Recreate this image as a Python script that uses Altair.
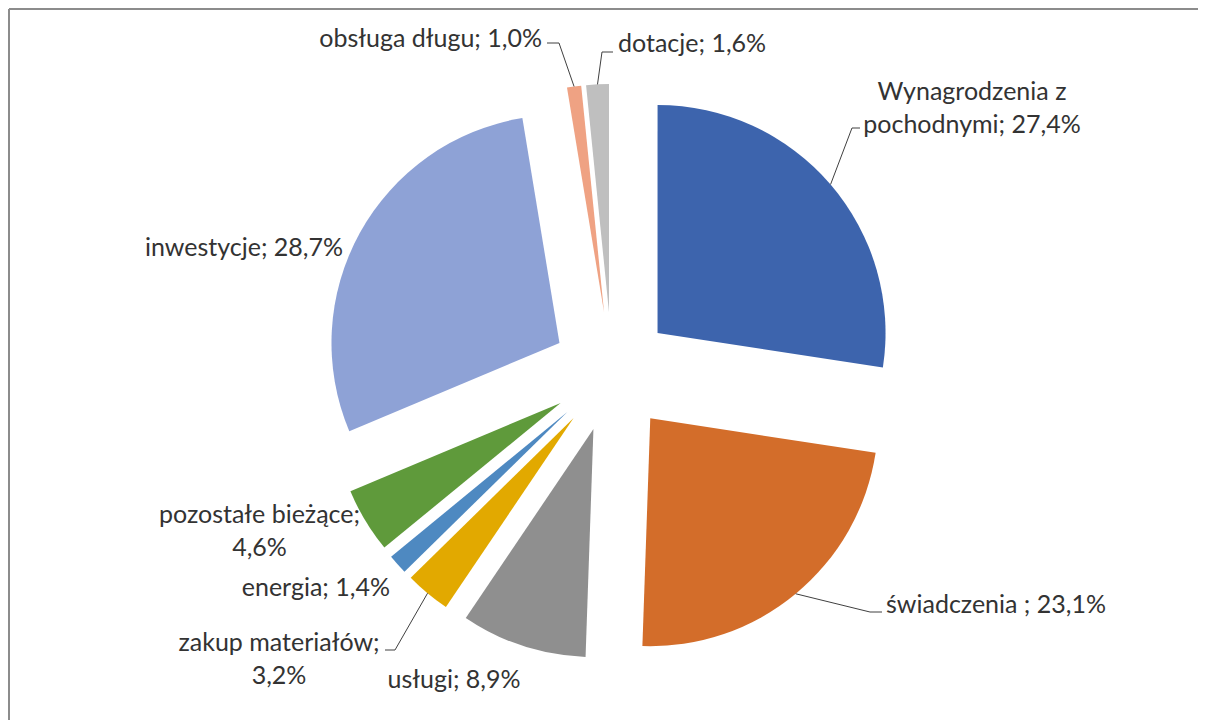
import altair as alt
import pandas as pd

# ---- data ----
CATEGORIES = ["Wynagrodzenia z pochodnymi", "świadczenia", "usługi", "zakup materiałów",
              "energia", "pozostałe bieżące", "inwestycje", "obsługa długu", "dotacje"]
VALUES = [27.4, 23.1, 8.9, 3.2, 1.4, 4.6, 28.7, 1.0, 1.6]
LABELS = ["Wynagrodzenia z\npochodnymi; 27,4%", "świadczenia ; 23,1%", "usługi; 8,9%",
          "zakup materiałów;\n3,2%", "energia; 1,4%", "pozostałe bieżące;\n4,6%",
          "inwestycje; 28,7%", "obsługa długu; 1,0%", "dotacje; 1,6%"]

# ---- style / layout ----
COLORS = ["#3D64AD", "#D36D2A", "#8F8F8F", "#E2A900", "#4E89C1",
          "#5F9A3B", "#8EA2D6", "#EFA283", "#BFBFBF"]
W, H = 1190, 712
CX, CY = 602, 364          # pie centre (px)
R = 228                    # radius (px)
EXPLODE = 60               # explosion distance (px)

# label anchor = centre of first text line
LABEL_X = [962, 876, 444, 269, 380, 249.5, 234, 532, 608]
LABEL_Y = [84, 597, 672, 635, 580, 507, 240, 31, 36]
LABEL_ALIGN = ["center", "left", "center", "center", "right", "center", "center", "right", "left"]
ELBOW_X = [842, 860, None, 385, None, None, None, 549, 592]
ELBOW_Y = [120, 604, None, 642, None, None, None, 35, 44]
END_X = [850, 872, None, 375, None, None, None, 537, 603]
END_Y = [120, 604, None, 642, None, None, None, 35, 44]

df = pd.DataFrame({
    "order": list(range(len(CATEGORIES))),
    "cat": CATEGORIES,
    "val": VALUES,
    "label": LABELS,
    "lx": LABEL_X,
    "ly": LABEL_Y,
    "align": LABEL_ALIGN,
    "ex": ELBOW_X,
    "ey": ELBOW_Y,
    "hx": END_X,
    "hy": END_Y,
})

base = alt.Chart(df).transform_window(
    cum="sum(val)", sort=[alt.SortField("order")], frame=[None, 0]
).transform_joinaggregate(
    total="sum(val)"
).transform_calculate(
    t0="2*PI*(datum.cum - datum.val)/datum.total",
    t1="2*PI*datum.cum/datum.total",
).transform_calculate(
    mid="(datum.t0 + datum.t1)/2"
).transform_calculate(
    cx=f"{CX} + {EXPLODE}*sin(datum.mid)",
    cy=f"{CY} - {EXPLODE}*cos(datum.mid)",
).transform_calculate(
    ax=f"datum.cx + {R}*sin(datum.mid)",
    ay=f"datum.cy - {R}*cos(datum.mid)",
)

arcs = base.mark_arc(radius=R).encode(
    theta=alt.Theta("t0:Q", scale=None),
    theta2=alt.Theta2("t1:Q"),
    x=alt.X("cx:Q", scale=None, axis=None),
    y=alt.Y("cy:Q", scale=None, axis=None),
    color=alt.Color("cat:N", scale=alt.Scale(domain=CATEGORIES, range=COLORS), legend=None),
)

leader_style = dict(color="#404040", strokeWidth=1)
leaders = base.transform_filter("isValid(datum.ex)")
seg1 = leaders.mark_rule(**leader_style).encode(
    x=alt.X("ax:Q", scale=None, axis=None), y=alt.Y("ay:Q", scale=None, axis=None),
    x2="ex:Q", y2="ey:Q",
)
seg2 = leaders.mark_rule(**leader_style).encode(
    x=alt.X("ex:Q", scale=None, axis=None), y=alt.Y("ey:Q", scale=None, axis=None),
    x2="hx:Q", y2="hy:Q",
)

text_layers = []
for al in ["left", "center", "right"]:
    text_layers.append(
        base.transform_filter(alt.datum.align == al).mark_text(
            align=al, baseline="middle", font="Lato", fontSize=25,
            lineHeight=33, lineBreak="\n", color="#333333",
        ).encode(
            x=alt.X("lx:Q", scale=None, axis=None),
            y=alt.Y("ly:Q", scale=None, axis=None),
            text="label:N",
        )
    )

border_top = alt.Chart(df).mark_rule(color="#8C8C8C", strokeWidth=1.5).encode(
    x=alt.value(-1), x2=alt.value(W), y=alt.value(1)
)
border_left = alt.Chart(df).mark_rule(color="#8C8C8C", strokeWidth=1.5).encode(
    x=alt.value(-1), y=alt.value(1), y2=alt.value(H)
)

chart = alt.layer(arcs, seg1, seg2, *text_layers, border_top, border_left).properties(
    width=W, height=H,
    autosize=alt.AutoSizeParams(type="fit", contains="padding"),
    padding=0,
).configure_view(stroke=None)

chart.save("out.html", embed_options={"renderer": "svg", "actions": False})
